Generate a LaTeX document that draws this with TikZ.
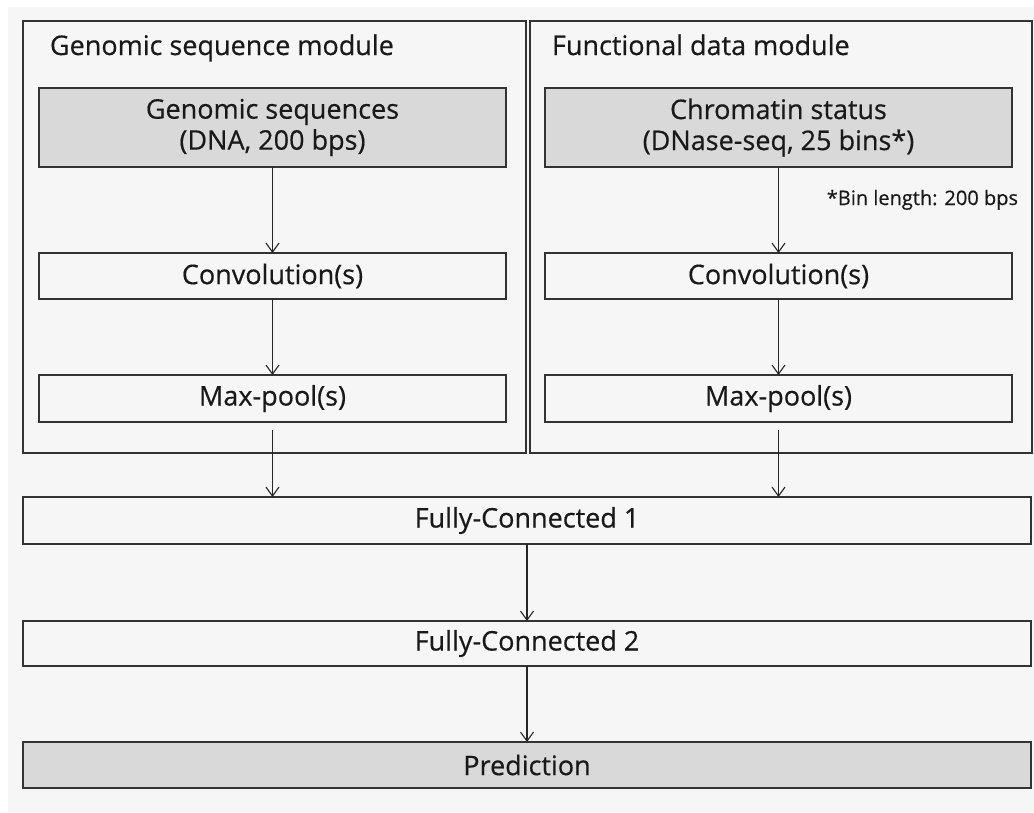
\documentclass[tikz,border=0pt]{standalone}
\usepackage{fontspec}
\setmainfont{Open Sans}
\newfontfamily\labelfont{Open Sans}[FakeBold=0.5]
\usetikzlibrary{arrows.meta}
\definecolor{panelbg}{RGB}{246,246,246}
\definecolor{inputfill}{RGB}{217,217,217}
\definecolor{edgegray}{RGB}{51,51,51}

\begin{document}
\begin{tikzpicture}[x=1pt,y=-1pt]
    \tikzstyle{every node}+=[inner sep=0pt,outer sep=0pt,text=black!90,font=\labelfont\fontsize{27}{31}\selectfont]
    \tikzstyle{module}=[draw=edgegray,line width=1.5pt]
    \tikzstyle{layer}=[draw=edgegray,line width=1.8pt,fill=panelbg,align=center]
    \tikzstyle{inputlayer}=[layer,fill=inputfill]
    \tikzstyle{flow}=[draw=black!85,line width=1.1pt,-{Straight Barb[length=9pt,width=13pt]}]
    \useasboundingbox (0,0) rectangle (1034,812);
    \fill [white] (0,0) rectangle (1034,812);
    \fill [panelbg] (8,7) rectangle (1034,812);
    \node [module,minimum width=503pt,minimum height=432pt] (gmod) at (274.5,237) {};
    \node [module,minimum width=502pt,minimum height=432pt] (fmod) at (781,237) {};
    \node [anchor=base west] (gtitle) at (50,55) {Genomic sequence module};
    \node [anchor=base west] (ftitle) at (552,55) {Functional data module};
    \node [inputlayer,minimum width=467pt,minimum height=79pt] (gseq) at (272.5,127.5) {Genomic sequences\\(DNA, 200 bps)};
    \node [inputlayer,minimum width=467pt,minimum height=79pt] (fseq) at (778.5,127.5) {Chromatin status\\(DNase-seq, 25 bins*)};
    \node [anchor=base east,font=\labelfont\fontsize{20}{24}\selectfont] (binnote) at (1018,205) {*Bin length: 200 bps};
    \node [layer,minimum width=467pt,minimum height=46pt] (gconv) at (272.5,276) {Convolution(s)};
    \node [layer,minimum width=467pt,minimum height=46pt] (fconv) at (778.5,276) {Convolution(s)};
    \node [layer,minimum width=467pt,minimum height=47pt] (gpool) at (272.5,398.5) {Max-pool(s)};
    \node [layer,minimum width=467pt,minimum height=47pt] (fpool) at (778.5,398.5) {Max-pool(s)};
    \node [layer,minimum width=1008pt,minimum height=47pt] (fc1) at (527,520.5) {Fully-Connected 1};
    \node [layer,minimum width=1008pt,minimum height=45pt] (fc2) at (527,643.5) {Fully-Connected 2};
    \node [inputlayer,minimum width=1008pt,minimum height=46pt] (pred) at (527,765) {Prediction};
    \draw [flow] (gseq.south) -- (gconv.north);
    \draw [flow] (fseq.south) -- (fconv.north);
    \draw [flow] (gconv.south) -- (gpool.north);
    \draw [flow] (fconv.south) -- (fpool.north);
    \draw [flow] ([yshift=-8pt]gpool.south) -- (gpool.south |- fc1.north);
    \draw [flow] ([yshift=-8pt]fpool.south) -- (fpool.south |- fc1.north);
    \draw [flow] (fc1.south) -- (fc2.north);
    \draw [flow] (fc2.south) -- (pred.north);
\end{tikzpicture}
\end{document}
